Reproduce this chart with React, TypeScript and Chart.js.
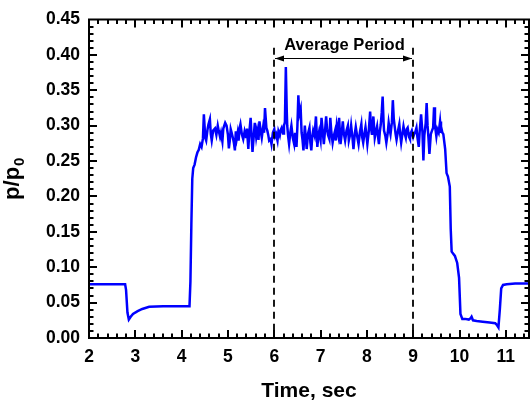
import { useEffect, useRef } from "react";
import { Chart, registerables } from "chart.js";

Chart.register(...registerables);

// ---- data (time in seconds, pressure ratio p/p0) ----
const timeSec: number[] = [
  2.00, 2.78, 2.80, 2.83, 2.86, 2.90, 2.95, 3.05, 3.15, 3.30,
  3.60, 4.00, 4.17, 4.19, 4.21, 4.23, 4.25, 4.28, 4.31, 4.34,
  4.37, 4.40, 4.43, 4.46, 4.48, 4.51, 4.53, 4.56, 4.58, 4.61,
  4.63, 4.65, 4.68, 4.72, 4.75, 4.78, 4.80, 4.83, 4.85, 4.88,
  4.90, 4.94, 4.97, 5.00, 5.02, 5.04, 5.06, 5.08, 5.11, 5.13,
  5.15, 5.17, 5.19, 5.21, 5.23, 5.25, 5.27, 5.30, 5.33, 5.36,
  5.39, 5.41, 5.44, 5.46, 5.49, 5.51, 5.53, 5.56, 5.58, 5.61,
  5.63, 5.66, 5.68, 5.71, 5.73, 5.76, 5.78, 5.80, 5.83, 5.85,
  5.87, 5.89, 5.92, 5.94, 5.97, 6.00, 6.02, 6.04, 6.07, 6.09,
  6.12, 6.14, 6.16, 6.19, 6.21, 6.23, 6.25, 6.27, 6.28, 6.30,
  6.32, 6.35, 6.37, 6.40, 6.43, 6.45, 6.48, 6.50, 6.52, 6.54,
  6.57, 6.59, 6.61, 6.63, 6.66, 6.68, 6.70, 6.73, 6.76, 6.78,
  6.80, 6.82, 6.84, 6.87, 6.90, 6.93, 6.95, 6.97, 7.00, 7.02,
  7.05, 7.07, 7.10, 7.12, 7.14, 7.16, 7.19, 7.21, 7.23, 7.26,
  7.28, 7.31, 7.33, 7.35, 7.38, 7.40, 7.43, 7.45, 7.48, 7.50,
  7.53, 7.56, 7.59, 7.61, 7.64, 7.66, 7.69, 7.71, 7.74, 7.76,
  7.79, 7.82, 7.85, 7.88, 7.90, 7.92, 7.95, 7.97, 7.99, 8.01,
  8.04, 8.07, 8.09, 8.11, 8.14, 8.17, 8.19, 8.22, 8.24, 8.26,
  8.28, 8.30, 8.32, 8.34, 8.36, 8.37, 8.40, 8.42, 8.45, 8.47,
  8.49, 8.51, 8.54, 8.56, 8.58, 8.60, 8.62, 8.64, 8.67, 8.70,
  8.72, 8.74, 8.77, 8.79, 8.82, 8.84, 8.86, 8.88, 8.91, 8.93,
  8.95, 8.97, 9.00, 9.02, 9.04, 9.07, 9.09, 9.12, 9.14, 9.17,
  9.20, 9.22, 9.24, 9.27, 9.29, 9.31, 9.33, 9.35, 9.38, 9.40,
  9.43, 9.45, 9.47, 9.50, 9.52, 9.55, 9.58, 9.60, 9.61, 9.63,
  9.65, 9.69, 9.72, 9.75, 9.79, 9.81, 9.83, 9.90, 9.95, 9.99,
  10.02, 10.06, 10.12, 10.20, 10.24, 10.26, 10.29, 10.37, 10.50, 10.65,
  10.77, 10.80, 10.84, 10.87, 10.90, 10.94, 11.02, 11.20, 11.50,
];

const pressureRatio: number[] = [
  0.076, 0.076, 0.068, 0.036, 0.026, 0.030, 0.034, 0.038, 0.041, 0.044,
  0.045, 0.045, 0.045, 0.080, 0.160, 0.225, 0.240, 0.245, 0.255, 0.262,
  0.266, 0.274, 0.270, 0.282, 0.316, 0.283, 0.279, 0.295, 0.302, 0.309,
  0.288, 0.279, 0.293, 0.296, 0.287, 0.300, 0.293, 0.284, 0.290, 0.278,
  0.296, 0.304, 0.300, 0.287, 0.268, 0.279, 0.295, 0.290, 0.282, 0.275,
  0.265, 0.292, 0.282, 0.290, 0.279, 0.296, 0.302, 0.288, 0.281, 0.292,
  0.284, 0.296, 0.267, 0.290, 0.311, 0.285, 0.263, 0.288, 0.304, 0.284,
  0.293, 0.280, 0.306, 0.291, 0.283, 0.298, 0.290, 0.325, 0.297, 0.293,
  0.287, 0.279, 0.281, 0.274, 0.290, 0.295, 0.285, 0.288, 0.279, 0.292,
  0.286, 0.294, 0.297, 0.289, 0.300, 0.305, 0.383, 0.320, 0.300, 0.285,
  0.274, 0.292, 0.300, 0.283, 0.274, 0.290, 0.270, 0.300, 0.343, 0.316,
  0.324, 0.290, 0.280, 0.265, 0.300, 0.284, 0.267, 0.289, 0.297, 0.276,
  0.265, 0.284, 0.293, 0.286, 0.313, 0.270, 0.285, 0.292, 0.280, 0.311,
  0.290, 0.274, 0.296, 0.313, 0.295, 0.287, 0.281, 0.311, 0.293, 0.276,
  0.284, 0.292, 0.279, 0.300, 0.288, 0.311, 0.274, 0.285, 0.306, 0.290,
  0.279, 0.293, 0.300, 0.279, 0.288, 0.300, 0.282, 0.267, 0.289, 0.298,
  0.285, 0.274, 0.291, 0.302, 0.283, 0.276, 0.290, 0.298, 0.287, 0.274,
  0.292, 0.320, 0.296, 0.287, 0.313, 0.283, 0.290, 0.299, 0.285, 0.274,
  0.292, 0.302, 0.318, 0.341, 0.305, 0.293, 0.285, 0.276, 0.290, 0.304,
  0.295, 0.288, 0.305, 0.336, 0.310, 0.299, 0.288, 0.280, 0.292, 0.302,
  0.287, 0.276, 0.290, 0.299, 0.288, 0.283, 0.295, 0.297, 0.284, 0.281,
  0.290, 0.293, 0.284, 0.288, 0.290, 0.297, 0.284, 0.270, 0.292, 0.316,
  0.290, 0.251, 0.286, 0.304, 0.332, 0.300, 0.282, 0.260, 0.288, 0.292,
  0.297, 0.326, 0.300, 0.285, 0.295, 0.290, 0.306, 0.290, 0.296, 0.290,
  0.288, 0.267, 0.233, 0.228, 0.214, 0.154, 0.122, 0.116, 0.106, 0.085,
  0.034, 0.027, 0.027, 0.026, 0.028, 0.030, 0.025, 0.024, 0.023, 0.022,
  0.021, 0.019, 0.015, 0.040, 0.070, 0.075, 0.076, 0.077, 0.077,
];

const xMin = 2;
const xMax = 11.5;
const yMin = 0;
const yMax = 0.45;
const xMajorStep = 1;
const xMinorStep = 0.2;
const yMajorStep = 0.05;
const yMinorStep = 0.01;

const avgStart = 6;
const avgEnd = 9;
const avgLabel = "Average Period";
const avgArrowLevel = 0.395;
const avgDashTop = 0.41;

const xTitle = "Time, sec";
const yTitleMain = "p/p";
const yTitleSub = "0";

const FONT = "'Liberation Sans', Arial, Helvetica, sans-serif";

const decorPlugin = {
  id: "decor",
  afterDatasetsDraw(chart: any) {
    const { ctx, chartArea, scales } = chart;
    const xs = scales.x;
    const ys = scales.y;
    const { left, right, top, bottom } = chartArea;
    ctx.save();

    // dashed average-period lines
    ctx.strokeStyle = "#000";
    ctx.lineWidth = 1.8;
    ctx.setLineDash([7, 5]);
    for (const t of [avgStart, avgEnd]) {
      const px = Math.round(xs.getPixelForValue(t));
      ctx.beginPath();
      ctx.moveTo(px, ys.getPixelForValue(avgDashTop));
      ctx.lineTo(px, bottom);
      ctx.stroke();
    }
    ctx.setLineDash([]);

    // arrow
    const ax1 = Math.round(xs.getPixelForValue(avgStart)) + 1;
    const ax2 = Math.round(xs.getPixelForValue(avgEnd)) - 1;
    const ay = Math.round(ys.getPixelForValue(avgArrowLevel)) + 0.5;
    ctx.lineWidth = 1;
    ctx.beginPath();
    ctx.moveTo(ax1, ay);
    ctx.lineTo(ax2, ay);
    ctx.stroke();
    ctx.fillStyle = "#000";
    ctx.beginPath();
    ctx.moveTo(ax1, ay);
    ctx.lineTo(ax1 + 9, ay - 3);
    ctx.lineTo(ax1 + 9, ay + 3);
    ctx.closePath();
    ctx.fill();
    ctx.beginPath();
    ctx.moveTo(ax2, ay);
    ctx.lineTo(ax2 - 9, ay - 3);
    ctx.lineTo(ax2 - 9, ay + 3);
    ctx.closePath();
    ctx.fill();

    ctx.font = `bold 16.5px ${FONT}`;
    ctx.textAlign = "center";
    ctx.textBaseline = "alphabetic";
    ctx.fillText(avgLabel, (ax1 + ax2) / 2 + 1, ay - 8.5);

    // frame
    ctx.lineWidth = 2;
    ctx.strokeRect(left, top, right - left, bottom - top);

    // ticks (inward, all four sides)
    ctx.lineWidth = 2;
    ctx.lineCap = "butt";
    const majorLen = 8;
    const minorLen = 4.5;
    const nX = Math.round((xMax - xMin) / xMinorStep);
    for (let i = 0; i <= nX; i++) {
      const v = xMin + i * xMinorStep;
      const isMajor = Math.abs(v / xMajorStep - Math.round(v / xMajorStep)) < 1e-6;
      const len = isMajor ? majorLen : minorLen;
      const px = Math.round(xs.getPixelForValue(v));
      if (px <= left + 1 || px >= right - 1) continue;
      ctx.beginPath();
      ctx.moveTo(px, bottom);
      ctx.lineTo(px, bottom - len);
      ctx.moveTo(px, top);
      ctx.lineTo(px, top + len);
      ctx.stroke();
    }
    const nY = Math.round((yMax - yMin) / yMinorStep);
    for (let i = 0; i <= nY; i++) {
      const v = yMin + i * yMinorStep;
      const isMajor = i % Math.round(yMajorStep / yMinorStep) === 0;
      const len = isMajor ? majorLen : minorLen;
      const py = Math.round(ys.getPixelForValue(v));
      if (py <= top + 1 || py >= bottom - 1) continue;
      ctx.beginPath();
      ctx.moveTo(left, py);
      ctx.lineTo(left + len, py);
      ctx.moveTo(right, py);
      ctx.lineTo(right - len, py);
      ctx.stroke();
    }

    // x title
    ctx.fillStyle = "#000";
    ctx.font = `bold 21px ${FONT}`;
    ctx.textAlign = "center";
    ctx.textBaseline = "alphabetic";
    ctx.fillText(xTitle, (left + right) / 2, 397);

    // y title with subscript
    ctx.save();
    ctx.translate(19, (top + bottom) / 2);
    ctx.rotate(-Math.PI / 2);
    ctx.font = `bold 22px ${FONT}`;
    const wMain = ctx.measureText(yTitleMain).width;
    ctx.font = `bold 15px ${FONT}`;
    const wSub = ctx.measureText(yTitleSub).width;
    const start = -(wMain + wSub + 1) / 2;
    ctx.textAlign = "left";
    ctx.font = `bold 22px ${FONT}`;
    ctx.fillText(yTitleMain, start, 0);
    ctx.font = `bold 15px ${FONT}`;
    ctx.fillText(yTitleSub, start + wMain + 1, 5);
    ctx.restore();

    ctx.restore();
  },
};

export default function App() {
  const canvasRef = useRef<HTMLCanvasElement | null>(null);

  useEffect(() => {
    const canvas = canvasRef.current;
    if (!canvas) return;
    const points = timeSec.map((t, i) => ({ x: t, y: pressureRatio[i] }));
    const tickFont = { family: FONT, size: 17.5, weight: "bold" as const };
    const chart = new Chart(canvas, {
      type: "line",
      data: {
        datasets: [
          {
            data: points,
            borderColor: "#0000ff",
            borderWidth: 2.5,
            pointRadius: 0,
            tension: 0,
            fill: false,
          },
        ],
      },
      options: {
        animation: false,
        responsive: false,
        maintainAspectRatio: false,
        layout: { padding: { top: 13, right: 2, left: 0, bottom: 0 } },
        plugins: {
          legend: { display: false },
          tooltip: { enabled: false },
          title: { display: false },
        },
        scales: {
          x: {
            type: "linear",
            min: xMin,
            max: xMax,
            grid: { display: false, drawTicks: false },
            border: { display: false },
            ticks: {
              stepSize: xMajorStep,
              includeBounds: false,
              autoSkip: false,
              maxRotation: 0,
              padding: 9,
              color: "#000",
              font: tickFont,
              callback: (v: any) => String(v),
            },
            afterFit: (s: any) => {
              s.height = 66;
            },
          },
          y: {
            type: "linear",
            min: yMin,
            max: yMax,
            grid: { display: false, drawTicks: false },
            border: { display: false },
            ticks: {
              stepSize: yMajorStep,
              autoSkip: false,
              padding: 9,
              color: "#000",
              font: tickFont,
              callback: (v: any) => Number(v).toFixed(2),
            },
            afterFit: (s: any) => {
              s.width = 89;
            },
          },
        },
      },
      plugins: [decorPlugin],
    });
    return () => chart.destroy();
  }, []);

  return (
    <div style={{ position: "fixed", left: 0, top: 0, width: 531, height: 404, background: "#fff" }}>
      <canvas ref={canvasRef} width={531} height={404} style={{ display: "block" }} />
    </div>
  );
}
